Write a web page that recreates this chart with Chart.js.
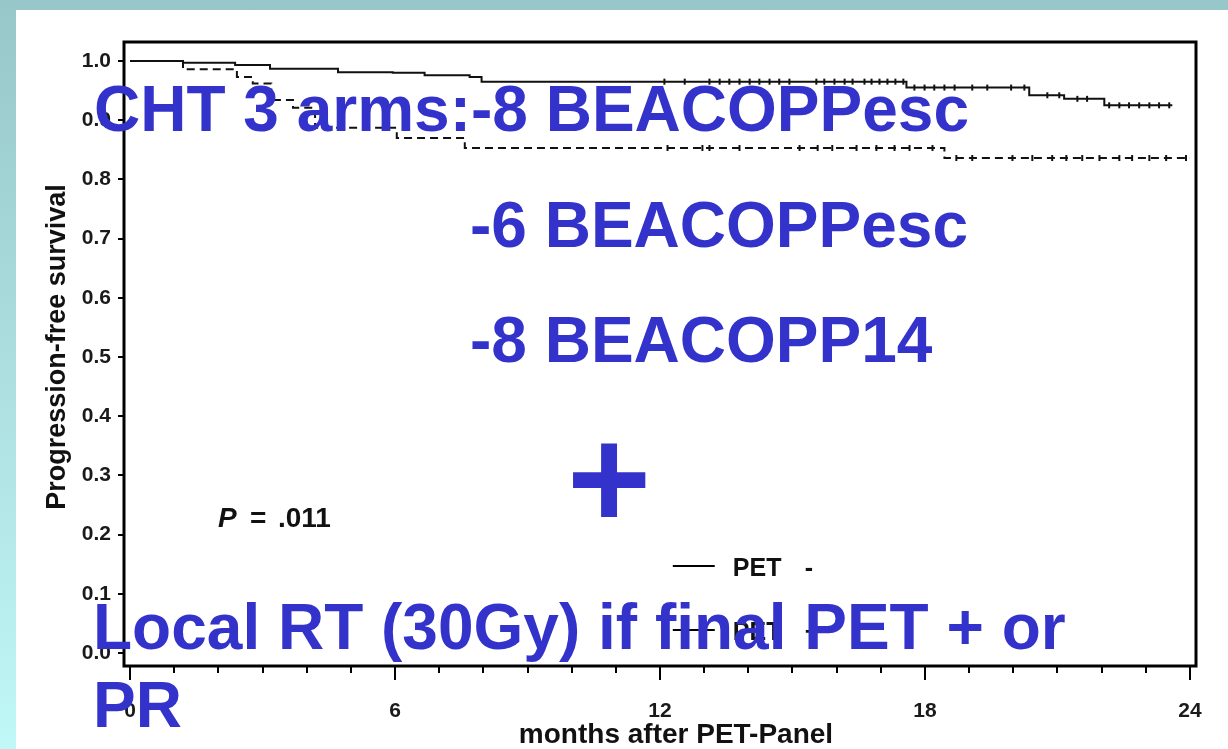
<!DOCTYPE html>
<html>
<head>
<meta charset="utf-8">
<script src="https://cdn.jsdelivr.net/npm/chart.js@4/dist/chart.umd.min.js"></script>
<style>
html, body { margin: 0; padding: 0; width: 1228px; height: 749px; overflow: hidden; }
body { position: relative; background: linear-gradient(to bottom, #97c7c8 0%, #a9dadb 40%, #c0f7f7 100%); }
#panel { position: absolute; left: 16px; top: 10px; right: 0; bottom: 0; background: #ffffff; }
#wrap { position: absolute; left: 0; top: 0; width: 1228px; height: 749px; }
</style>
</head>
<body>
<div id="panel"></div>
<div id="wrap"><canvas id="c"></canvas></div>
<script>
// ---------- data ----------
const xMajorTicks = [0, 6, 12, 18, 24];
const xMajorLabels = ['0', '6', '12', '18', '24'];
const xMinorTicks = [0,1,2,3,4,5,6,7,8,9,10,11,12,13,14,15,16,17,18,19,20,21,22,23,24];
const yTickValues = [0.0, 0.1, 0.2, 0.3, 0.4, 0.5, 0.6, 0.7, 0.8, 0.9, 1.0];
const yTickLabels = ['0.0', '0.1', '0.2', '0.3', '0.4', '0.5', '0.6', '0.7', '0.8', '0.9', '1.0'];

const seriesNames = ['PET', 'PET'];
const seriesSigns = ['-', '+'];

// PET- (solid): event times (months) and survival after each step
const petNegTimes = [0, 1.2, 2.38, 3.17, 4.71, 5.95, 6.67, 7.69, 7.96, 17.58, 20.36, 21.15, 22.06, 23.6];
const petNegSurv  = [1.0, 0.997, 0.993, 0.987, 0.981, 0.980, 0.976, 0.973, 0.965, 0.955, 0.942, 0.936, 0.925, 0.925];
// PET+ (dashed)
const petPosTimes = [0, 1.2, 2.42, 2.78, 3.2, 3.69, 4.19, 6.04, 7.58, 18.44, 24.0];
const petPosSurv  = [1.0, 0.986, 0.973, 0.962, 0.934, 0.921, 0.887, 0.870, 0.853, 0.836, 0.836];

// censoring times (months)
const petNegCensor = [12.1, 12.56, 13.12, 13.35, 13.57, 13.8, 14.03, 14.25, 14.48, 14.7, 14.93, 15.54, 15.72, 15.95, 16.18, 16.36, 16.63, 16.79, 16.97, 17.15, 17.33, 17.51, 17.76, 17.99, 18.21, 18.44, 18.67, 19.07, 19.41, 19.95, 20.25, 20.77, 21.04, 21.45, 21.67, 22.17, 22.4, 22.62, 22.85, 23.08, 23.3, 23.53];
const petPosCensor = [12.17, 12.96, 13.12, 13.8, 15.16, 15.57, 15.9, 16.45, 16.9, 17.31, 17.65, 18.17, 18.71, 19.07, 19.98, 20.43, 20.88, 21.2, 21.56, 21.95, 22.4, 22.69, 23.08, 23.46, 23.91];

const xTitle = 'months after PET-Panel';
const yTitle = 'Progression-free survival';
const pLabel = 'P';
const pEq = '=';
const pValue = '.011';
const overlayLines = ['CHT 3 arms:-8 BEACOPPesc', '-6 BEACOPPesc', '-8 BEACOPP14', 'Local RT (30Gy) if final PET + or', 'PR'];
const overlayPlus = '+';

// ---------- helpers ----------
function survAt(times, surv, t) {
  let v = surv[0];
  for (let i = 0; i < times.length; i++) { if (times[i] <= t) v = surv[i]; }
  return v;
}
function steps(times, surv) { return times.map((t, i) => ({ x: t, y: surv[i] })); }
function censors(list, times, surv) { return list.map(t => ({ x: t, y: survAt(times, surv, t) })); }

const FONT = '"Liberation Sans", Arial, Helvetica, sans-serif';
Chart.defaults.font.family = FONT;
Chart.defaults.color = '#111';

const decor = {
  id: 'decor',
  afterDatasetsDraw(chart) {
    const { ctx, chartArea: ca, scales: { x, y } } = chart;
    ctx.save();
    // frame
    ctx.strokeStyle = '#000';
    ctx.lineWidth = 3;
    ctx.strokeRect(ca.left, ca.top, ca.right - ca.left, ca.bottom - ca.top);
    // longer major ticks on x
    ctx.lineWidth = 2;
    xMajorTicks.forEach(v => {
      const px = x.getPixelForValue(v);
      ctx.beginPath(); ctx.moveTo(px, ca.bottom); ctx.lineTo(px, ca.bottom + 14); ctx.stroke();
    });
    // axis titles
    ctx.fillStyle = '#111';
    ctx.textBaseline = 'alphabetic';
    ctx.textAlign = 'center';
    ctx.font = 'bold 28px ' + FONT;
    ctx.fillText(xTitle, (ca.left + ca.right) / 2 + 16, 743);
    ctx.save();
    ctx.translate(65, (ca.top + ca.bottom) / 2 - 7);
    ctx.rotate(-Math.PI / 2);
    ctx.font = 'bold 27px ' + FONT;
    ctx.fillText(yTitle, 0, 0);
    ctx.restore();
    ctx.textAlign = 'left';
    // legend inside the plot
    const leg = [{ y: 0.147, dash: [] }, { y: 0.039, dash: [10, 6] }];
    ctx.font = 'bold 25px ' + FONT;
    ctx.textBaseline = 'middle';
    leg.forEach((e, i) => {
      const py = y.getPixelForValue(e.y);
      ctx.setLineDash(e.dash);
      ctx.lineWidth = 2;
      ctx.beginPath(); ctx.moveTo(x.getPixelForValue(12.29), py); ctx.lineTo(x.getPixelForValue(13.24), py); ctx.stroke();
      ctx.setLineDash([]);
      const tx = x.getPixelForValue(13.65);
      ctx.fillText(seriesNames[i], tx, py + 3);
      ctx.fillText(seriesSigns[i], tx + 72, py + 3);
    });
    // P value
    const px0 = x.getPixelForValue(1.99), py0 = y.getPixelForValue(0.225);
    ctx.font = 'italic bold 28px ' + FONT;
    ctx.fillText(pLabel, px0, py0);
    ctx.font = 'bold 28px ' + FONT;
    ctx.fillText(pEq, px0 + 32, py0);
    ctx.fillText(pValue, px0 + 60, py0);
    ctx.restore();
  },
  afterDraw(chart) {
    const ctx = chart.ctx;
    ctx.save();
    ctx.fillStyle = '#3333cc';
    ctx.textBaseline = 'alphabetic';
    ctx.font = 'bold 64px ' + FONT;
    const pos = [[94, 131], [470, 247], [470, 362], [93, 649], [93, 727]];
    overlayLines.forEach((t, i) => ctx.fillText(t, pos[i][0], pos[i][1]));
    // big plus sign fitted to its box
    let size = 150;
    ctx.font = 'bold ' + size + 'px ' + FONT;
    let m = ctx.measureText(overlayPlus);
    const bw = m.actualBoundingBoxLeft + m.actualBoundingBoxRight;
    size = size * 73 / bw;
    ctx.font = 'bold ' + size + 'px ' + FONT;
    m = ctx.measureText(overlayPlus);
    ctx.fillText(overlayPlus, 573 + m.actualBoundingBoxLeft, 443 + m.actualBoundingBoxAscent);
    ctx.restore();
  }
};

new Chart(document.getElementById('c'), {
  type: 'line',
  data: {
    datasets: [
      { label: 'PET -', data: steps(petNegTimes, petNegSurv), stepped: 'before', borderColor: '#111', borderWidth: 2, pointRadius: 0, fill: false },
      { label: 'PET +', data: steps(petPosTimes, petPosSurv), stepped: 'before', borderColor: '#111', borderWidth: 2, borderDash: [8, 5], pointRadius: 0, fill: false },
      { label: 'censored PET -', data: censors(petNegCensor, petNegTimes, petNegSurv), showLine: false, pointStyle: 'line', rotation: 90, pointRadius: 3, borderColor: '#111', borderWidth: 2 },
      { label: 'censored PET +', data: censors(petPosCensor, petPosTimes, petPosSurv), showLine: false, pointStyle: 'line', rotation: 90, pointRadius: 3, borderColor: '#111', borderWidth: 2 }
    ]
  },
  options: {
    responsive: true,
    maintainAspectRatio: false,
    animation: false,
    events: [],
    layout: { padding: { left: 0, top: 42, right: 32, bottom: 0 } },
    plugins: { legend: { display: false }, tooltip: { enabled: false } },
    scales: {
      x: {
        type: 'linear', min: -0.136, max: 24.136,
        afterBuildTicks: s => { s.ticks = xMinorTicks.map(v => ({ value: v })); },
        afterFit: s => { s.height = 83; },
        border: { display: false },
        grid: { drawOnChartArea: false, drawTicks: true, tickLength: 7, color: '#000', lineWidth: 2 },
        ticks: {
          autoSkip: false, maxRotation: 0, padding: 26,
          font: { size: 21, weight: 'bold' }, color: '#1a1a1a',
          callback: v => { const i = xMajorTicks.indexOf(v); return i >= 0 ? xMajorLabels[i] : ''; }
        },
        title: { display: false }
      },
      y: {
        type: 'linear', min: -0.022, max: 1.032,
        afterBuildTicks: s => { s.ticks = yTickValues.map(v => ({ value: v })); },
        afterFit: s => { s.width = 124; },
        border: { display: false },
        grid: { drawOnChartArea: false, drawTicks: true, tickLength: 6, color: '#000', lineWidth: 2 },
        ticks: {
          autoSkip: false, padding: 7,
          font: { size: 21, weight: 'bold' }, color: '#1a1a1a',
          callback: v => { const i = yTickValues.findIndex(t => Math.abs(t - v) < 1e-6); return i >= 0 ? yTickLabels[i] : ''; }
        },
        title: { display: false }
      }
    }
  },
  plugins: [decor]
});
</script>
</body>
</html>
